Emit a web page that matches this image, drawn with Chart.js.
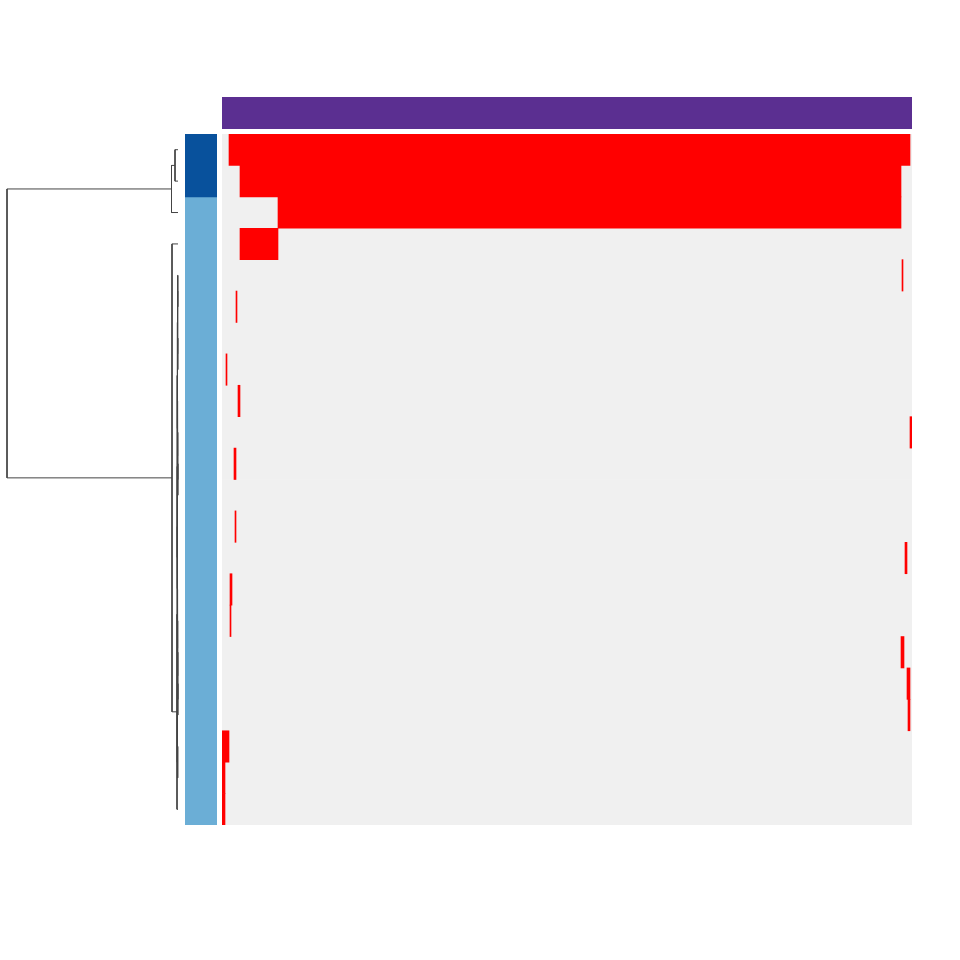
<!DOCTYPE html>
<html>
<head>
<meta charset="utf-8">
<script src="https://cdn.jsdelivr.net/npm/chart.js@4.4.1/dist/chart.umd.min.js"></script>
<style>
  html, body { margin: 0; padding: 0; background: #ffffff; }
  body { width: 960px; height: 960px; position: relative; overflow: hidden; }
  .box { position: absolute; }
</style>
</head>
<body>
<div class="box" style="left:0px;top:134px;width:185px;height:691px;"><canvas id="dendro" width="185" height="691"></canvas></div>
<div class="box" style="left:185px;top:134px;width:32px;height:691px;"><canvas id="rowAnno" width="32" height="691"></canvas></div>
<div class="box" style="left:222px;top:97px;width:690px;height:32px;"><canvas id="colAnno" width="690" height="32"></canvas></div>
<div class="box" style="left:222px;top:134px;width:690px;height:691px;"><canvas id="heat" width="690" height="691"></canvas></div>
<script>
// ---------------- DATA ----------------
const rowLabels = ["R1","R2","R3","R4","R5","R6","R7","R8","R9","R10","R11",
                   "R12","R13","R14","R15","R16","R17","R18","R19","R20","R21","R22"];
const nColumns = 690;
// red (present) segment per row, in column units [start, end]; null = none
const presentSegments = [
  [7, 688], [18, 679], [56, 679], [18, 56], [680, 681], [14, 15], null,
  [4, 5], [16, 18], [688, 690], [12, 14], null, [13, 14], [683, 685],
  [8, 10], [8, 9], [679, 682], [685, 688], [686, 688], [0, 7], [0, 3], [0, 3]
];
// row annotation groups (row counts, top to bottom)
const rowGroupNames = ["Group A", "Group B"];
const rowGroupSizes = [2, 20];
const rowGroupColors = ["#08519c", "#6baed6"];
// column annotation
const colGroupNames = ["All"];
const colGroupColors = ["#5b2f91"];
// dendrogram merges: [left, right, height]; leaf = -row, node = +index (1-based)
const treeMerges = [
  [-1, -2, 3],      // 1
  [1, -3, 6.5],     // 2
  [-5, -6, 0.25],   // 3
  [-7, -8, 0.25],   // 4
  [3, 4, 0.45],     // 5
  [-11, -12, 0.2],  // 6
  [-10, 6, 0.35],   // 7
  [-9, 7, 0.5],     // 8
  [5, 8, 0.65],     // 9
  [-18, -19, 0.2],  // 10
  [-17, 10, 0.3],   // 11
  [-16, 11, 0.4],   // 12
  [-15, 12, 0.5],   // 13
  [-14, 13, 0.6],   // 14
  [-13, 14, 0.7],   // 15
  [9, 15, 0.8],     // 16
  [-20, -21, 0.3],  // 17
  [16, 17, 0.9],    // 18
  [18, -22, 1.0],   // 19
  [-4, 19, 6],      // 20
  [2, 20, 171]      // 21 root
];
</script>
<script>
Chart.defaults.animation = false;
Chart.defaults.responsive = false;
Chart.defaults.devicePixelRatio = 1;
Chart.defaults.plugins.legend.display = false;
Chart.defaults.plugins.tooltip.enabled = false;

const nRows = rowLabels.length;

// ---------- dendrogram ----------
const nodePos = [];
function posOf(ref) {
  if (ref < 0) return { y: -ref - 0.5, h: 0 };
  return nodePos[ref - 1];
}
const dendroDatasets = [];
treeMerges.forEach((m) => {
  const L = posOf(m[0]), R = posOf(m[1]), h = m[2];
  nodePos.push({ y: (L.y + R.y) / 2, h: h });
  dendroDatasets.push({
    data: [{x: L.h, y: L.y}, {x: h, y: L.y}, {x: h, y: R.y}, {x: R.h, y: R.y}],
    borderColor: "#444444",
    borderWidth: 1,
    pointRadius: 0,
    showLine: true,
    fill: false,
    tension: 0
  });
});
new Chart(document.getElementById("dendro"), {
  type: "scatter",
  data: { datasets: dendroDatasets },
  options: {
    layout: { padding: 0 },
    scales: {
      x: { type: "linear", min: -7, max: 178, reverse: true, display: false },
      y: { type: "linear", min: 0, max: nRows, reverse: true, display: false }
    },
    elements: { line: { borderCapStyle: "butt" } }
  }
});

// ---------- row annotation ----------
new Chart(document.getElementById("rowAnno"), {
  type: "bar",
  data: {
    labels: ["group"],
    datasets: rowGroupSizes.map((s, i) => ({
      label: rowGroupNames[i],
      data: [s],
      backgroundColor: rowGroupColors[i],
      borderWidth: 0,
      barPercentage: 1,
      categoryPercentage: 1
    }))
  },
  options: {
    layout: { padding: 0 },
    scales: {
      x: { stacked: true, display: false },
      y: { stacked: true, min: 0, max: nRows, reverse: true, display: false }
    }
  }
});

// ---------- column annotation ----------
new Chart(document.getElementById("colAnno"), {
  type: "bar",
  data: {
    labels: colGroupNames,
    datasets: [{
      data: [[0, nColumns]],
      backgroundColor: colGroupColors,
      borderWidth: 0,
      barPercentage: 1,
      categoryPercentage: 1
    }]
  },
  options: {
    indexAxis: "y",
    layout: { padding: 0 },
    scales: {
      x: { type: "linear", min: 0, max: nColumns, display: false },
      y: { display: false }
    }
  }
});

// ---------- heatmap ----------
new Chart(document.getElementById("heat"), {
  type: "bar",
  data: {
    labels: rowLabels,
    datasets: [
      {
        label: "absent",
        data: rowLabels.map(() => [0, nColumns]),
        backgroundColor: "#f0f0f0",
        borderWidth: 0,
        barPercentage: 1,
        categoryPercentage: 1,
        grouped: false,
        order: 2
      },
      {
        label: "present",
        data: presentSegments,
        backgroundColor: "#ff0000",
        borderWidth: 0,
        barPercentage: 1,
        categoryPercentage: 1,
        grouped: false,
        order: 1
      }
    ]
  },
  options: {
    indexAxis: "y",
    layout: { padding: 0 },
    scales: {
      x: { type: "linear", min: 0, max: nColumns, display: false },
      y: { display: false }
    }
  }
});
</script>
</body>
</html>
